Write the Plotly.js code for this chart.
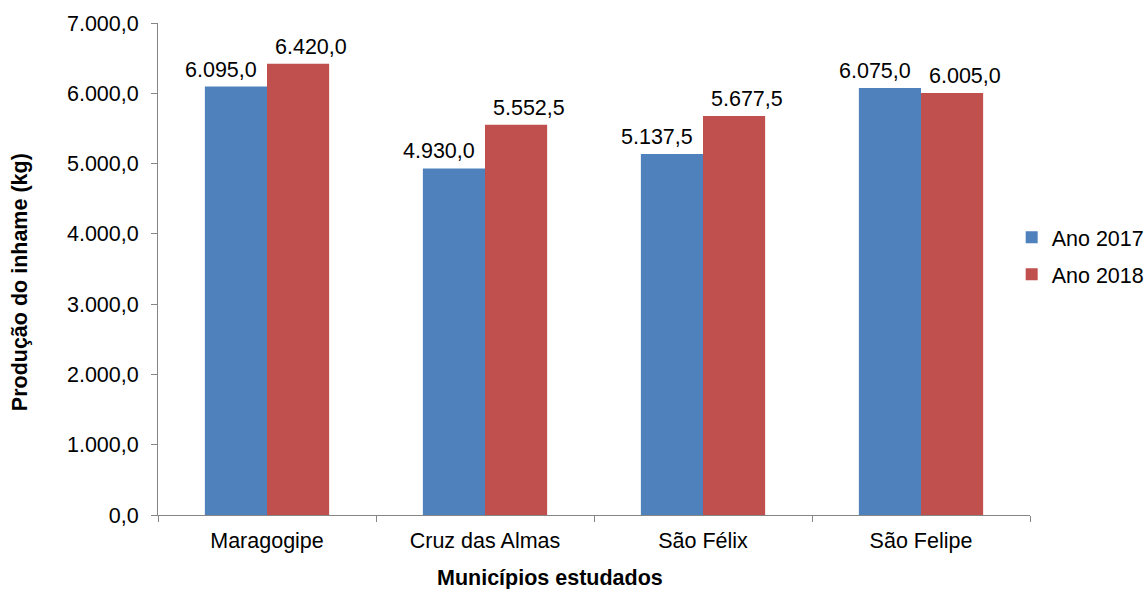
<!DOCTYPE html>
<html><head><meta charset="utf-8">
<script src="https://cdn.plot.ly/plotly-3.0.1.min.js"></script>
<style>body{margin:0;background:#fff}#c{width:1147px;height:589px}</style>
</head><body><div id="c"></div>
<script>
var categories = ["Maragogipe", "Cruz das Almas", "São Félix", "São Felipe"];
var ano2017 = [6095.0, 4930.0, 5137.5, 6075.0];
var ano2018 = [6420.0, 5552.5, 5677.5, 6005.0];
var seriesNames = ["Ano 2017", "Ano 2018"];
var colors = ["#4F81BD", "#C0504D"];
var xTitle = "Municípios estudados";
var yTitle = "Produção do inhame (kg)";

function fmt(v){
  var s = v.toFixed(1).split(".");
  var i = s[0].replace(/\B(?=(\d{3})+(?!\d))/g, ".");
  return i + "," + s[1];
}
var font = {family: "Liberation Sans, Arial, sans-serif", size: 21.5, color: "#000"};
var traces = [
  {type:"bar", x:categories, y:ano2017, name:seriesNames[0], legendgroup:"a", marker:{color:colors[0]}},
  {type:"bar", x:categories, y:ano2018, name:seriesNames[1], legendgroup:"b", marker:{color:colors[1]}}
];
var annotations = [];
categories.forEach(function(c,i){
  annotations.push({x:c, y:ano2017[i], text:fmt(ano2017[i]), showarrow:false, yanchor:"bottom", xshift:-46, yshift:3, font:font});
  annotations.push({x:c, y:ano2018[i], text:fmt(ano2018[i]), showarrow:false, yanchor:"bottom", xshift:44, yshift:3, font:font});
});
annotations.push({xref:"paper", yref:"paper", x:0.4495, y:-0.128, text:"<b>"+xTitle+"</b>", showarrow:false, xanchor:"center", yanchor:"middle", font:font});
annotations.push({xref:"paper", yref:"paper", x:-0.158, y:0.4736, text:"<b>"+yTitle+"</b>", showarrow:false, textangle:-90, xanchor:"center", yanchor:"middle", font:font});
var layout = {
  width:1147, height:589,
  margin:{l:158, r:117, t:23, b:74, autoexpand:false},
  paper_bgcolor:"#fff", plot_bgcolor:"#fff",
  separators:",.",
  font:font,
  barmode:"group", bargap:0.43, bargroupgap:0,
  showlegend:true,
  legend:{x:0.979, xanchor:"left", y:0.527, yanchor:"middle", font:font, itemwidth:30, tracegroupgap:6, bgcolor:"rgba(0,0,0,0)"},
  xaxis:{showline:true, linecolor:"#868686", linewidth:1, ticks:"outside", tickson:"boundaries", ticklen:6, tickcolor:"#868686", showgrid:false, tickfont:font, ticklabelstandoff:6},
  yaxis:{range:[0,7000], dtick:1000, tickformat:",.1f", showline:true, linecolor:"#868686", linewidth:1, ticks:"outside", ticklen:6, tickcolor:"#868686", showgrid:false, zeroline:false, tickfont:font, ticklabelstandoff:8},
  annotations:annotations
};
Plotly.newPlot("c", traces, layout, {displayModeBar:false, staticPlot:true});
</script></body></html>
